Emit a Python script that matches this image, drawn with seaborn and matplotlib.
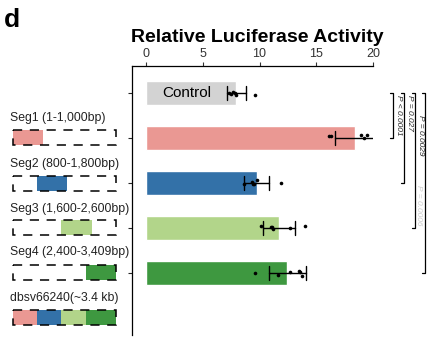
import numpy as np
import pandas as pd
import matplotlib
matplotlib.use("Agg")
import matplotlib.pyplot as plt
from matplotlib.patches import Rectangle
import seaborn as sns

sns.set_style("white")
plt.rcParams["font.family"] = ["Liberation Sans", "DejaVu Sans"]

# Constructs and their measured luciferase activity (replicates)
constructs = ["Control", "Seg1", "Seg2", "Seg3", "Seg4"]
control_vals = [7.3, 7.5, 7.7, 7.8, 7.9, 9.6]
seg1_vals = [16.1, 16.3, 18.9, 19.2, 19.5, 20.4]
seg2_vals = [8.6, 9.3, 9.4, 9.5, 9.8, 11.9]
seg3_vals = [10.1, 11.0, 11.1, 11.2, 12.7, 14.0]
seg4_vals = [9.6, 11.6, 12.7, 13.5, 13.6, 13.7]
bar_colors = ["#d3d3d3", "#ea9893", "#3371a8", "#b2d58a", "#3e9840"]

# Pairwise comparisons against Control
p_labels = ["P < 0.0001", "P = 0.027", "P = 0.0029", "P = 0.0006"]

# Segment layout of the dbsv66240 insert (bp)
seg_names = ["Seg1 (1-1,000bp)", "Seg2 (800-1,800bp)",
             "Seg3 (1,600-2,600bp)", "Seg4 (2,400-3,409bp)"]
seg_start = [1, 800, 1600, 2400]
seg_end = [1000, 1800, 2600, 3409]
full_name = "dbsv66240(~3.4 kb)"
full_len = 3409

values = [control_vals, seg1_vals, seg2_vals, seg3_vals, seg4_vals]
df = pd.DataFrame({
    "construct": np.repeat(constructs, [len(v) for v in values]),
    "activity": np.concatenate(values),
})

W, H = 429, 339
fig = plt.figure(figsize=(W / 100, H / 100), dpi=100)

# Main bar chart axes (pixel geometry -> figure fractions)
ax = fig.add_axes([132 / W, 4 / H, (373 - 132) / W, (335 - 66) / H])
sns.barplot(data=df, y="construct", x="activity", order=constructs,
            hue="construct", palette=bar_colors, legend=False,
            saturation=1, errorbar="sd", width=0.52, capsize=0.3,
            err_kws={"color": "black", "linewidth": 1.0}, ax=ax)
np.random.seed(3)
sns.stripplot(data=df, y="construct", x="activity", order=constructs,
              color="black", size=2.6, jitter=0.07, ax=ax, zorder=5)

ax.set_xlim(-1.24, 20)
ax.set_ylim(5.38, -0.6)
ax.set_xticks([0, 5, 10, 15, 20])
ax.xaxis.tick_top()
ax.tick_params(axis="x", direction="out", length=3, width=0.8,
               labelsize=9, colors="#333333", pad=1.5)
ax.tick_params(axis="y", direction="out", length=3, width=0.8,
               labelleft=False, left=True)
ax.set_xlabel("")
ax.set_ylabel("")
for side in ["right", "bottom"]:
    ax.spines[side].set_visible(False)
for side in ["left", "top"]:
    ax.spines[side].set_color("black")
    ax.spines[side].set_linewidth(0.9)

ax.text(3.6, 0, "Control", ha="center", va="center", fontsize=11,
        color="black")

# Significance brackets to the right of the bars
bracket_x = [21.8, 22.75, 23.7, 24.6]
label_pos = [(22.25, 0.05), (23.2, 0.05), (24.15, 0.5), (24.05, 2.05)]
for i, (bx, lab, (lx, ly)) in enumerate(zip(bracket_x, p_labels, label_pos)):
    y1 = i + 1
    ax.plot([bx - 0.28, bx, bx, bx - 0.28], [0, 0, y1, y1],
            color="black", lw=0.9, clip_on=False)
    ax.text(lx, ly, lab, rotation=-90, ha="center", va="top", fontsize=6,
            fontstyle="italic",
            color="#222222" if i < 3 else "#cccccc", clip_on=False)

fig.text(257 / W, 1 - 37 / H, "Relative Luciferase Activity",
         ha="center", va="center", fontsize=14, fontweight="bold",
         color="black")
fig.text(4 / W, 1 - 20 / H, "d", ha="left", va="center",
         fontsize=19, fontweight="bold", color="black")

# Schematic of the segments on the left
sx = fig.add_axes([0, 0, 1, 1], zorder=-1)
sx.set_xlim(0, W)
sx.set_ylim(H, 0)
sx.axis("off")
x0, x1 = 13, 116


def bp2px(bp):
    return x0 + (bp - 1) / (full_len - 1) * (x1 - x0)


label_y = [118, 164, 209, 252]
box_y = [130, 176, 220, 265]
box_h = 15
seg_colors = bar_colors[1:]
for name, s, e, c, ly, by in zip(seg_names, seg_start, seg_end,
                                 seg_colors, label_y, box_y):
    sx.text(10, ly, name, ha="left", va="center", fontsize=8.8,
            color="#222222")
    sx.add_patch(Rectangle((bp2px(s), by), bp2px(e) - bp2px(s), box_h,
                           facecolor=c, edgecolor="none"))
    sx.add_patch(Rectangle((x0, by), x1 - x0, box_h, facecolor="none",
                           edgecolor="black", lw=1.1,
                           linestyle=(0, (6, 5))))

sx.text(10, 298, full_name, ha="left", va="center", fontsize=8.8,
        color="#222222")
for s, e, c in zip(seg_start, seg_end, seg_colors):
    sx.add_patch(Rectangle((bp2px(s), 310), bp2px(e) - bp2px(s), box_h,
                           facecolor=c, edgecolor="none"))
sx.add_patch(Rectangle((x0, 310), x1 - x0, box_h, facecolor="none",
                       edgecolor="black", lw=1.1, linestyle=(0, (6, 5))))

fig.savefig("out.png", dpi=100)
